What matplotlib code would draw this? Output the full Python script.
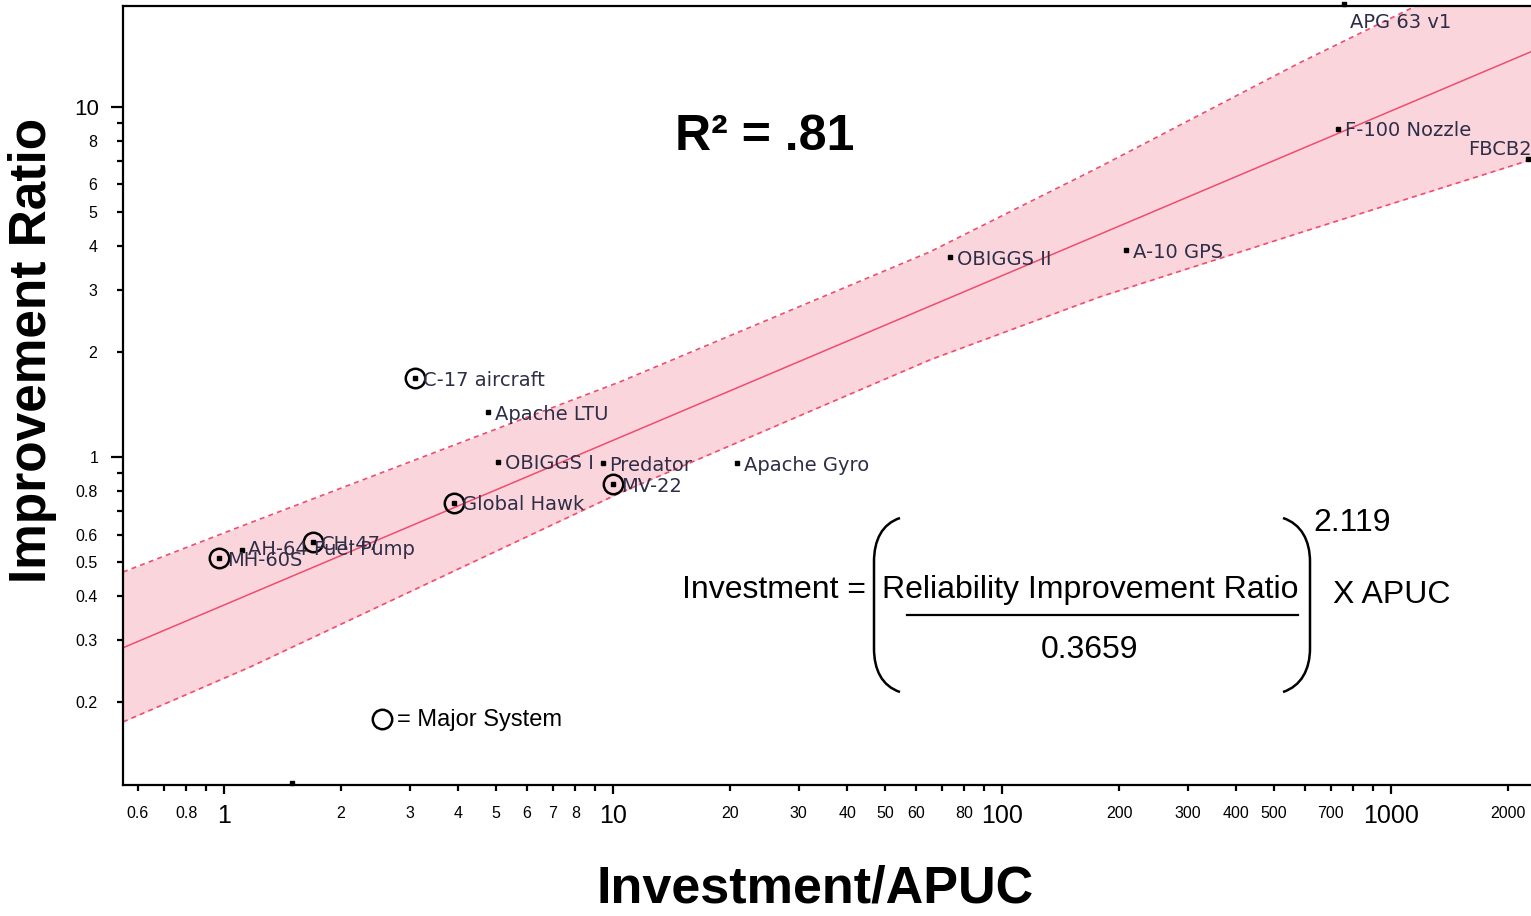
import matplotlib
matplotlib.use('Agg')
import matplotlib.pyplot as plt
from matplotlib.path import Path
from matplotlib.patches import PathPatch
from matplotlib.ticker import FixedLocator, FixedFormatter

plt.rcParams['font.family'] = ['Liberation Sans', 'DejaVu Sans']

# systems: investment / APUC vs reliability improvement ratio
names = ['MH-60S', 'AH-64 Fuel Pump', 'CH-47', 'C-17 aircraft', 'Global Hawk',
         'Apache LTU', 'OBIGGS I', 'Predator', 'MV-22', 'Apache Gyro',
         'OBIGGS II', 'A-10 GPS', 'F-100 Nozzle', 'FBCB2', 'APG 63 v1', '']
invest = [0.97, 1.11, 1.69, 3.10, 3.90, 4.77, 5.06, 9.4, 10.0, 20.8,
          73.7, 208, 733, 2250, 757, 1.5]
ratio = [0.514, 0.543, 0.571, 1.68, 0.739, 1.34, 0.97, 0.96, 0.837, 0.96,
         3.72, 3.90, 8.66, 7.1, 19.6, 0.117]
major_sys = ['MH-60S', 'CH-47', 'C-17 aircraft', 'Global Hawk', 'MV-22']

# fitted line and prediction band
fit_x = [0.55, 2291]
fit_y = [0.285, 14.36]
band_x = [0.55, 1.166, 10.42, 65.3, 178.6, 583, 2291]
band_hi = [0.469, 0.648, 1.638, 3.852, 6.74, 13.36, 28.1]
band_lo = [0.175, 0.251, 0.789, 1.893, 2.865, 4.365, 7.06]

x_major = [1, 10, 100, 1000]
x_minor = [0.6, 0.7, 0.8, 0.9] + [2, 3, 4, 5, 6, 7, 8, 9] + \
          [20, 30, 40, 50, 60, 70, 80, 90] + [200, 300, 400, 500, 600, 700, 800, 900] + [2000]
x_minor_lbl = {0.6: '0.6', 0.8: '0.8', 2: '2', 3: '3', 4: '4', 5: '5', 6: '6', 7: '7', 8: '8',
               20: '20', 30: '30', 40: '40', 50: '50', 60: '60', 80: '80',
               200: '200', 300: '300', 400: '400', 500: '500', 700: '700', 2000: '2000'}
y_major = [1, 10]
y_minor = [0.2, 0.3, 0.4, 0.5, 0.6, 0.7, 0.8, 0.9, 2, 3, 4, 5, 6, 7, 8, 9]
y_minor_lbl = {0.2: '0.2', 0.3: '0.3', 0.4: '0.4', 0.5: '0.5', 0.6: '0.6', 0.8: '0.8',
               2: '2', 3: '3', 4: '4', 5: '5', 6: '6', 8: '8'}

W, H = 1531, 916
L, R, T, B = 123, 1531, 6, 785


def ax_frac(px, py):
    # image pixel -> axes fraction
    return (px - L) / (R - L), (B - py) / (B - T)


fig = plt.figure(figsize=(W / 100, H / 100), dpi=100)
ax = fig.add_axes([L / W, 1 - B / H, (R - L) / W, (B - T) / H])
ax.set_xscale('log')
ax.set_yscale('log')
ax.set_xlim(0.55, 2291)
ax.set_ylim(0.1156, 19.4)

pink_line = '#ef4d6d'
ax.fill_between(band_x, band_lo, band_hi, color='#fbd5dc', lw=0, zorder=1)
ax.plot(band_x, band_hi, color=pink_line, lw=1.2, ls=(0, (3, 2.5)), zorder=2)
ax.plot(band_x, band_lo, color=pink_line, lw=1.2, ls=(0, (3, 2.5)), zorder=2)
ax.plot(fit_x, fit_y, color=pink_line, lw=1.1, zorder=2)

# points
ax.plot(invest, ratio, 's', color='black', ms=2.2, zorder=4, clip_on=False)
mx = [x for n, x in zip(names, invest) if n in major_sys]
my = [y for n, y in zip(names, ratio) if n in major_sys]
ax.plot(mx, my, 'o', mfc='none', mec='black', ms=14, mew=1.8, zorder=4)

offsets = {'FBCB2': (-43, 6.5), 'APG 63 v1': (4.3, -13), 'AH-64 Fuel Pump': (4.5, 0)}
for n, x, y in zip(names, invest, ratio):
    if not n:
        continue
    dx, dy = offsets.get(n, (6 if n in major_sys else 5, -1.5))
    ax.annotate(n, (x, y), xytext=(dx, dy), textcoords='offset points',
                fontsize=14, family='DejaVu Sans', color='#2e2e48',
                va='center', ha='left', zorder=5, annotation_clip=False)

# spines / ticks
ax.spines['right'].set_visible(False)
for s in ['left', 'bottom', 'top']:
    ax.spines[s].set_linewidth(1.6)
ax.xaxis.set_major_locator(FixedLocator(x_major))
ax.xaxis.set_major_formatter(FixedFormatter([str(v) for v in x_major]))
ax.xaxis.set_minor_locator(FixedLocator(x_minor))
ax.xaxis.set_minor_formatter(FixedFormatter([x_minor_lbl.get(v, '') for v in x_minor]))
ax.yaxis.set_major_locator(FixedLocator(y_major))
ax.yaxis.set_major_formatter(FixedFormatter([str(v) for v in y_major]))
ax.yaxis.set_minor_locator(FixedLocator(y_minor))
ax.yaxis.set_minor_formatter(FixedFormatter([y_minor_lbl.get(v, '') for v in y_minor]))

ax.tick_params(axis='x', which='major', length=6.5, width=1.6, labelsize=18, pad=7)
ax.tick_params(axis='x', which='minor', length=4, width=1.6, labelsize=11.5, pad=11)
ax.tick_params(axis='y', which='major', length=8.5, width=1.6, labelsize=16, pad=9)
ax.tick_params(axis='y', which='minor', length=4.5, width=1.6, labelsize=11.5, pad=14)
for lab in ax.get_yticklabels():
    if lab.get_text() == '1':
        lab.set_fontsize(11.5)

# axis titles
fig.text(33 / W, 1 - 350 / H, 'Improvement Ratio', rotation=90, fontsize=37,
         fontweight='bold', ha='center', va='center')
fig.text(815 / W, 1 - 889 / H, 'Investment/APUC', fontsize=37.5,
         fontweight='bold', ha='center', va='center')

# R squared
ax.text(*ax_frac(765, 137), 'R\u00b2 = .81', transform=ax.transAxes, fontsize=36,
        fontweight='bold', ha='center', va='center')

# major system key
ax.plot(*ax_frac(382, 719), 'o', mfc='none', mec='black', ms=14, mew=1.8,
        transform=ax.transAxes, clip_on=False)
ax.text(*ax_frac(397, 720), '= Major System', transform=ax.transAxes,
        fontsize=17, ha='left', va='center')

# equation
eq = dict(transform=ax.transAxes, fontsize=23, va='center')
ax.text(*ax_frac(682, 590), 'Investment =', ha='left', **eq)
ax.text(*ax_frac(1090, 590), 'Reliability Improvement Ratio', ha='center', **eq)
ax.text(*ax_frac(1090, 650), '0.3659', ha='center', **eq)
ax.text(*ax_frac(1313, 523), '2.119', ha='left', **eq)
ax.text(*ax_frac(1333, 595), 'X APUC', ha='left', **eq)
x0, y0 = ax_frac(907, 615)
x1, _ = ax_frac(1298, 615)
ax.plot([x0, x1], [y0, y0], color='black', lw=1.6, transform=ax.transAxes)

codes = [Path.MOVETO, Path.CURVE4, Path.CURVE4, Path.CURVE4, Path.LINETO,
         Path.CURVE4, Path.CURVE4, Path.CURVE4]
left_par = [(900, 518), (882, 524), (874, 540), (874, 562), (874, 648),
            (874, 670), (882, 686), (900, 692)]
right_par = [(1283, 518), (1301, 524), (1310, 540), (1310, 562), (1310, 648),
             (1310, 670), (1301, 686), (1283, 692)]
for par in [left_par, right_par]:
    verts = [ax_frac(px, py) for px, py in par]
    ax.add_patch(PathPatch(Path(verts, codes), fill=False, lw=1.8,
                           edgecolor='black', transform=ax.transAxes))

fig.savefig('out.png', dpi=100)
